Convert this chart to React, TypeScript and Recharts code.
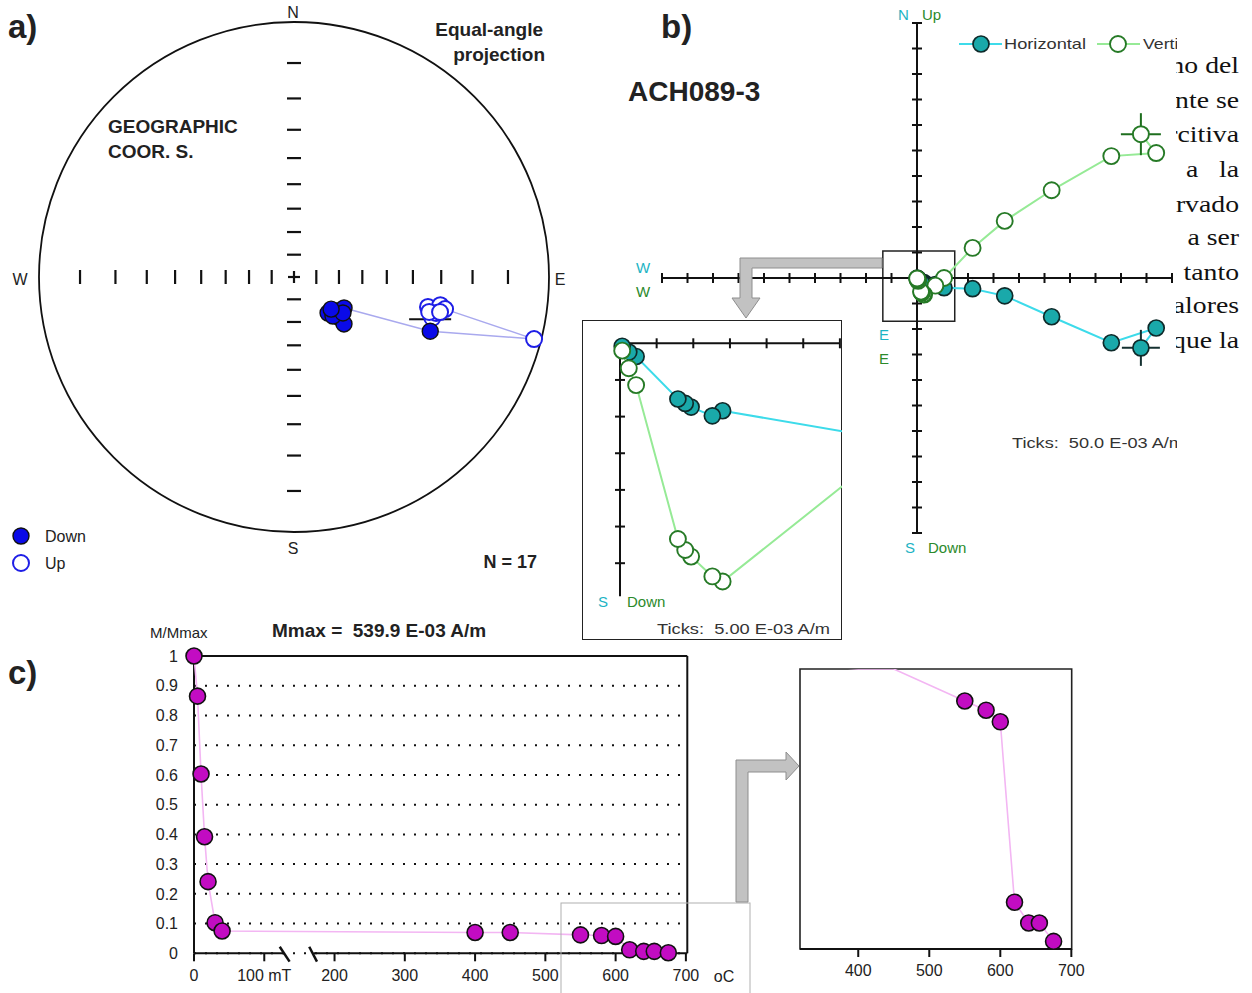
import React from "react";
import {
  ScatterChart,
  Scatter,
  XAxis,
  YAxis,
  ReferenceLine,
  ReferenceDot,
  ReferenceArea,
  CartesianGrid,
} from "recharts";

const SANS = "'Liberation Sans', Arial, Helvetica, sans-serif";
const SERIF = "'Liberation Serif', 'Times New Roman', serif";

// ---- a) stereonet: declination / inclination of each step
const stereoDec = [136.6, 128.3, 121.8, 131.7, 133.2, 135, 126.3, 130.9, 102.6, 100.9, 102.0, 106.5, 104.2, 104.5, 103.5, 111.7, 104.5];
const stereoInc = [68.0, 65.8, 64.0, 62.8, 59.9, 65.6, 63.2, 68.2, -33.4, -29.4, -27.6, -31.0, -30.2, -32.6, -29.0, 30.2, -1.6];
const stereoLinkIdx = [2, 15, 16, 10];
const meanDec = 107.2;
const meanInc = -31.6;
const netTickInc = [10, 20, 30, 40, 50, 60, 70, 80];

// ---- b) Zijderveld components (E-03 A/m), NRM first
const zijEast = [439, 469, 381, 264, 172, 109, 53, 36, 14.0, 12.6, 9.7, 8.9, 7.9, 2.2, 1.2, 0.3];
const zijNorth = [-137, -98, -127, -76, -35, -21, -19, -13, -9.2, -9.9, -8.7, -8.2, -7.6, -1.8, -1.2, -0.4];
const zijUp = [282, 245, 239, 172, 112, 59, 0, -15, -32.5, -31.8, -29.1, -28.2, -26.7, -5.7, -3.4, -1.0];
const zijTicks = [-500, -450, -400, -350, -300, -250, -200, -150, -100, -50, 50, 100, 150, 200, 250, 300, 350, 400, 450, 500];
const zoomTicksX = [5, 10, 15, 20, 25, 30];
const zoomTicksY = [-5, -10, -15, -20, -25, -30];

// ---- c) demagnetisation
const demagStep = [0, 5, 10, 15, 20, 30, 40, 400, 450, 550, 580, 600, 620, 640, 655, 675];
const demagM = [1, 0.865, 0.603, 0.392, 0.241, 0.103, 0.075, 0.07, 0.07, 0.062, 0.0597, 0.0568, 0.0117, 0.0065, 0.0065, 0.0019];
const stepTicks = [0, 100, 200, 300, 400, 500, 600, 700];
const stepTickLabels = ["0", "100 mT", "200", "300", "400", "500", "600", "700"];
const stepMinor = [25, 50, 75, 180, 220, 240, 260, 280, 320, 340, 360, 380, 420, 440, 460, 480, 520, 540, 560, 580, 620, 640, 660, 680];
const mTicks = [0, 0.1, 0.2, 0.3, 0.4, 0.5, 0.6, 0.7, 0.8, 0.9, 1];
const zoomStepTicks = [400, 500, 600, 700];
const zoomStepMinor = [340, 360, 380, 420, 440, 460, 480, 520, 540, 560, 580, 620, 640, 660, 680];
const ZOOM_M_MAX = 0.07;

const rad = Math.PI / 180;
const eqAngle = (inc: number) => Math.tan(((90 - Math.abs(inc)) / 2) * rad);
const project = (dec: number, inc: number) => {
  const r = eqAngle(inc);
  return { x: r * Math.sin(dec * rad), y: r * Math.cos(dec * rad), down: inc >= 0 };
};
const netPts = stereoDec.map((d, i) => project(d, stereoInc[i]));
const netDown = netPts.filter((p) => p.down);
const netUp = netPts.filter((p) => !p.down);
const netLink = stereoLinkIdx.map((i) => netPts[i]);
const netMean = [project(meanDec, meanInc)];
const netR = netTickInc.map(eqAngle);
const netTicksH = [...netR.map((r) => ({ x: r, y: 0 })), ...netR.map((r) => ({ x: -r, y: 0 }))];
const netTicksV = [...netR.map((r) => ({ x: 0, y: r })), ...netR.map((r) => ({ x: 0, y: -r }))];

const horData = zijEast.map((x, i) => ({ x, y: zijNorth[i], nrm: i === 0 }));
const vertData = zijEast.map((x, i) => ({ x, y: zijUp[i], nrm: i === 0 }));
const demagData = demagStep.map((x, i) => ({ x, y: demagM[i] }));
const demagZoomDots = demagData.filter((d) => d.y < ZOOM_M_MAX);

const noMargin = { top: 0, right: 0, bottom: 0, left: 0 };

const VDash = (len: number, w = 2) => (p: any) => (
  <line x1={p.cx} x2={p.cx} y1={p.cy - len} y2={p.cy + len} stroke="#111" strokeWidth={w} />
);
const HDash = (len: number, w = 2) => (p: any) => (
  <line x1={p.cx - len} x2={p.cx + len} y1={p.cy} y2={p.cy} stroke="#111" strokeWidth={w} />
);
const Plus = (p: any) => (
  <g stroke="#111" strokeWidth={2.2}>
    <line x1={p.cx - 6} x2={p.cx + 6} y1={p.cy} y2={p.cy} />
    <line x1={p.cx} x2={p.cx} y1={p.cy - 6} y2={p.cy + 6} />
  </g>
);
const Empty = () => <g />;

const NET_R = 255;
const NET_SIZE = 570;
const NET_D = NET_SIZE / 2 / NET_R;

function Stereonet() {
  return (
    <div style={{ position: "absolute", left: 294 - NET_SIZE / 2, top: 277 - NET_SIZE / 2 }}>
      <ScatterChart width={NET_SIZE} height={NET_SIZE} margin={noMargin}>
        <XAxis type="number" dataKey="x" domain={[-NET_D, NET_D]} hide />
        <YAxis type="number" dataKey="y" domain={[-NET_D, NET_D]} hide />
        <ReferenceDot x={0} y={0} r={NET_R} fill="none" stroke="#111" strokeWidth={1.8} />
        <Scatter data={netTicksH} shape={VDash(7, 2.2)} isAnimationActive={false} />
        <Scatter data={netTicksV} shape={HDash(7, 2.2)} isAnimationActive={false} />
        <Scatter data={[{ x: 0, y: 0 }]} shape={Plus} isAnimationActive={false} />
        <Scatter data={netLink} shape={Empty} line={{ stroke: "#a9a9ee", strokeWidth: 1.5 }} isAnimationActive={false} />
        <Scatter
          data={netMean}
          isAnimationActive={false}
          shape={(p: any) => (
            <g stroke="#111" strokeWidth={2}>
              <line x1={p.cx - 21} x2={p.cx + 21} y1={p.cy} y2={p.cy} />
              <line x1={p.cx} x2={p.cx} y1={p.cy - 12} y2={p.cy + 12} />
            </g>
          )}
        />
        <Scatter
          data={netUp}
          isAnimationActive={false}
          shape={(p: any) => <circle cx={p.cx} cy={p.cy} r={8} fill="#fff" stroke="#1e1ee6" strokeWidth={2} />}
        />
        <Scatter
          data={netDown}
          isAnimationActive={false}
          shape={(p: any) => <circle cx={p.cx} cy={p.cy} r={8} fill="#0a0ae8" stroke="#111" strokeWidth={1.4} />}
        />
      </ScatterChart>
    </div>
  );
}

const TealDot = (p: any) => (
  <g>
    {p.payload && p.payload.nrm ? (
      <g stroke="#143030" strokeWidth={2}>
        <line x1={p.cx - 19} x2={p.cx + 19} y1={p.cy} y2={p.cy} />
        <line x1={p.cx} x2={p.cx} y1={p.cy - 18} y2={p.cy + 18} />
      </g>
    ) : null}
    <circle cx={p.cx} cy={p.cy} r={8} fill="#1aa9aa" stroke="#0e2a2a" strokeWidth={1.7} />
  </g>
);
const GreenDot = (p: any) => (
  <g>
    {p.payload && p.payload.nrm ? (
      <g stroke="#1e6e1e" strokeWidth={2}>
        <line x1={p.cx - 20} x2={p.cx + 20} y1={p.cy} y2={p.cy} />
        <line x1={p.cx} x2={p.cx} y1={p.cy - 21} y2={p.cy + 21} />
      </g>
    ) : null}
    <circle cx={p.cx} cy={p.cy} r={8} fill="#fff" stroke="#267a26" strokeWidth={1.9} />
  </g>
);

const ZIJ_K = 0.51;
const ZIJ_SIZE = 530;
const ZIJ_D = ZIJ_SIZE / 2 / ZIJ_K;
const ZIJ_CX = 916.5;
const ZIJ_CY = 277.5;

function ZijMain() {
  const hT = zijTicks.map((v) => ({ x: v, y: 0 }));
  const vT = zijTicks.map((v) => ({ x: 0, y: v }));
  return (
    <div style={{ position: "absolute", left: ZIJ_CX - ZIJ_SIZE / 2, top: ZIJ_CY - ZIJ_SIZE / 2 }}>
      <ScatterChart width={ZIJ_SIZE} height={ZIJ_SIZE} margin={noMargin}>
        <XAxis type="number" dataKey="x" domain={[-ZIJ_D, ZIJ_D]} hide />
        <YAxis type="number" dataKey="y" domain={[-ZIJ_D, ZIJ_D]} hide />
        <ReferenceLine segment={[{ x: -500, y: 0 }, { x: 500, y: 0 }]} stroke="#111" strokeWidth={2} />
        <ReferenceLine segment={[{ x: 0, y: -500 }, { x: 0, y: 500 }]} stroke="#111" strokeWidth={2} />
        <Scatter data={hT} shape={VDash(5)} isAnimationActive={false} />
        <Scatter data={vT} shape={HDash(5)} isAnimationActive={false} />
        <ReferenceArea x1={-67} x2={74} y1={-85} y2={53} fill="none" stroke="#222" strokeWidth={1.5} />
        <Scatter data={horData} shape={TealDot} line={{ stroke: "#3ddbea", strokeWidth: 2 }} isAnimationActive={false} />
        <Scatter data={vertData} shape={GreenDot} line={{ stroke: "#96ea96", strokeWidth: 2 }} isAnimationActive={false} />
      </ScatterChart>
    </div>
  );
}

const ZOOM_K = 7.33;
const ZB = { left: 582, top: 320, w: 260, h: 320, ox: 620, oy: 343.3 };

function ZijZoom() {
  const xDom = [(ZB.left - ZB.ox) / ZOOM_K, (ZB.left + ZB.w - ZB.ox) / ZOOM_K];
  const yDom = [(ZB.oy - (ZB.top + ZB.h)) / ZOOM_K, (ZB.oy - ZB.top) / ZOOM_K];
  const hT = zoomTicksX.map((v) => ({ x: v, y: 0 }));
  const vT = zoomTicksY.map((v) => ({ x: 0, y: v }));
  return (
    <>
      <div
        style={{
          position: "absolute",
          left: ZB.left,
          top: ZB.top,
          width: ZB.w,
          height: ZB.h,
          boxSizing: "border-box",
          border: "1.5px solid #222",
          background: "#fff",
        }}
      />
      <div style={{ position: "absolute", left: ZB.left, top: ZB.top }}>
        <ScatterChart width={ZB.w} height={ZB.h} margin={noMargin}>
          <XAxis type="number" dataKey="x" domain={xDom} hide allowDataOverflow />
          <YAxis type="number" dataKey="y" domain={yDom} hide allowDataOverflow />
          <ReferenceLine segment={[{ x: 0, y: 0 }, { x: 30, y: 0 }]} stroke="#111" strokeWidth={2} />
          <ReferenceLine segment={[{ x: 0, y: 0 }, { x: 0, y: -34.5 }]} stroke="#111" strokeWidth={2} />
          <Scatter data={hT} shape={VDash(5)} isAnimationActive={false} />
          <Scatter data={vT} shape={HDash(5)} isAnimationActive={false} />
          <Scatter data={horData} shape={TealDot} line={{ stroke: "#3ddbea", strokeWidth: 2 }} isAnimationActive={false} />
          <Scatter data={vertData} shape={GreenDot} line={{ stroke: "#96ea96", strokeWidth: 2 }} isAnimationActive={false} />
        </ScatterChart>
      </div>
    </>
  );
}

const MagentaDot = (p: any) => (
  <circle cx={p.cx} cy={p.cy} r={8} fill="#c20cc2" stroke="#111" strokeWidth={1.6} />
);

const DM = { plotLeft: 194.4, plotTop: 656, plotW: 493.3, plotH: 297.3, yAxisW: 50, top: 10, right: 16, xAxisH: 34 };

function DemagMain() {
  const width = DM.yAxisW + DM.plotW + DM.right;
  const height = DM.top + DM.plotH + DM.xAxisH;
  return (
    <div style={{ position: "absolute", left: DM.plotLeft - DM.yAxisW, top: DM.plotTop - DM.top }}>
      <ScatterChart width={width} height={height} margin={{ top: DM.top, right: DM.right, bottom: 0, left: 0 }}>
        <CartesianGrid vertical={false} stroke="#111" strokeWidth={2} strokeDasharray="2 9" />
        <XAxis
          xAxisId="minor"
          type="number"
          dataKey="x"
          domain={[0, 702]}
          allowDataOverflow
          ticks={stepMinor}
          mirror
          height={0}
          tick={false}
          tickSize={4}
          axisLine={false}
          tickLine={{ stroke: "#111", strokeWidth: 1.5 }}
        />
        <XAxis
          type="number"
          dataKey="x"
          domain={[0, 702]}
          ticks={stepTicks}
          interval={0}
          height={DM.xAxisH}
          tickSize={8}
          tickMargin={8}
          axisLine={false}
          tickLine={{ stroke: "#111", strokeWidth: 2 }}
          tickFormatter={(v: number) => stepTickLabels[stepTicks.indexOf(v)]}
          tick={{ fontSize: 16, fill: "#222", fontFamily: SANS }}
        />
        <YAxis
          type="number"
          dataKey="y"
          domain={[0, 1]}
          ticks={mTicks}
          interval={0}
          width={DM.yAxisW}
          tickLine={false}
          tickMargin={10}
          axisLine={{ stroke: "#111", strokeWidth: 2 }}
          tickFormatter={(v: number) => String(v)}
          tick={{ fontSize: 16, fill: "#222", fontFamily: SANS }}
        />
        <ReferenceLine y={1} stroke="#111" strokeWidth={2} />
        <ReferenceLine x={702} stroke="#111" strokeWidth={2} />
        <ReferenceLine segment={[{ x: 0, y: 0 }, { x: 128, y: 0 }]} stroke="#111" strokeWidth={2} ifOverflow="visible" />
        <ReferenceLine segment={[{ x: 170, y: 0 }, { x: 702, y: 0 }]} stroke="#111" strokeWidth={2} ifOverflow="visible" />
        <ReferenceLine segment={[{ x: 122, y: 0.022 }, { x: 136, y: -0.028 }]} stroke="#111" strokeWidth={2.5} ifOverflow="visible" />
        <ReferenceLine segment={[{ x: 164, y: 0.022 }, { x: 175, y: -0.028 }]} stroke="#111" strokeWidth={2.5} ifOverflow="visible" />
        <Scatter data={demagData} shape={MagentaDot} line={{ stroke: "#f3b6f3", strokeWidth: 1.6 }} isAnimationActive={false} />
      </ScatterChart>
    </div>
  );
}

const DZ = { plotLeft: 800, plotTop: 669.3, plotW: 271.7, plotH: 280, pad: 4, right: 24, xAxisH: 34 };

function DemagZoom() {
  return (
    <div style={{ position: "absolute", left: DZ.plotLeft - DZ.pad, top: DZ.plotTop - DZ.pad }}>
      <ScatterChart
        width={DZ.plotW + DZ.pad + DZ.right}
        height={DZ.plotH + DZ.pad + DZ.xAxisH}
        margin={{ top: DZ.pad, right: DZ.right, bottom: 0, left: DZ.pad }}
      >
        <XAxis
          xAxisId="minor"
          type="number"
          dataKey="x"
          domain={[318, 700.5]}
          allowDataOverflow
          ticks={zoomStepMinor}
          mirror
          height={0}
          tick={false}
          tickSize={4}
          axisLine={false}
          tickLine={{ stroke: "#111", strokeWidth: 1.5 }}
        />
        <XAxis
          type="number"
          dataKey="x"
          domain={[318, 700.5]}
          allowDataOverflow
          ticks={zoomStepTicks}
          interval={0}
          height={DZ.xAxisH}
          tickSize={8}
          tickMargin={8}
          axisLine={{ stroke: "#111", strokeWidth: 2 }}
          tickLine={{ stroke: "#111", strokeWidth: 2 }}
          tick={{ fontSize: 16, fill: "#222", fontFamily: SANS }}
        />
        <YAxis type="number" dataKey="y" domain={[0, ZOOM_M_MAX]} hide allowDataOverflow />
        <ReferenceArea x1={318} x2={700.5} y1={0} y2={ZOOM_M_MAX} fill="none" stroke="#222" strokeWidth={1.6} />
        <Scatter data={demagData} shape={Empty} line={{ stroke: "#f3b6f3", strokeWidth: 1.6 }} isAnimationActive={false} />
        <Scatter data={demagZoomDots} shape={MagentaDot} isAnimationActive={false} />
      </ScatterChart>
    </div>
  );
}

const docLines = [
  { t: "mismo del", y: 73 },
  { t: "finalmente se", y: 108 },
  { t: "coercitiva", y: 142 },
  { t: "igual\u00a0\u00a0\u00a0 a\u00a0\u00a0 la", y: 177 },
  { t: "observado", y: 212 },
  { t: "vuelve\u00a0\u00a0 a ser", y: 245 },
  { t: "lo tanto", y: 280 },
  { t: "valores", y: 313 },
  { t: "porque la", y: 348 },
];

function Overlay() {
  const teal = "#1cb4c4";
  const green = "#2b8a2b";
  return (
    <svg
      width={1252}
      height={993}
      style={{ position: "absolute", left: 0, top: 0, pointerEvents: "none" }}
      fontFamily={SANS}
    >
      {/* panel a */}
      <text x={8} y={38} fontSize={33} fontWeight="bold" fill="#222">a)</text>
      <text x={293} y={18} fontSize={16} textAnchor="middle" fill="#222">N</text>
      <text x={293} y={554} fontSize={16} textAnchor="middle" fill="#222">S</text>
      <text x={20} y={285} fontSize={16} textAnchor="middle" fill="#222">W</text>
      <text x={560} y={285} fontSize={16} textAnchor="middle" fill="#222">E</text>
      <text x={543} y={36} fontSize={19} fontWeight="bold" textAnchor="end" fill="#222">Equal-angle</text>
      <text x={545} y={61} fontSize={19} fontWeight="bold" textAnchor="end" fill="#222">projection</text>
      <text x={108} y={133} fontSize={19} fontWeight="bold" fill="#222">GEOGRAPHIC</text>
      <text x={108} y={158} fontSize={19} fontWeight="bold" fill="#222">COOR. S.</text>
      <circle cx={21} cy={536} r={8} fill="#0a0ae8" stroke="#111" strokeWidth={1.4} />
      <text x={45} y={542} fontSize={16} fill="#222">Down</text>
      <circle cx={21} cy={563} r={8} fill="#fff" stroke="#1e1ee6" strokeWidth={2} />
      <text x={45} y={569} fontSize={16} fill="#222">Up</text>
      <text x={537} y={568} fontSize={18} fontWeight="bold" textAnchor="end" fill="#222">N = 17</text>

      {/* panel b */}
      <text x={661} y={38} fontSize={33} fontWeight="bold" fill="#222">b)</text>
      <text x={628} y={101} fontSize={28} fontWeight="bold" fill="#222">ACH089-3</text>
      <text x={898} y={20} fontSize={15} fill={teal}>N</text>
      <text x={922} y={20} fontSize={15} fill={green}>Up</text>
      <text x={905} y={553} fontSize={15} fill={teal}>S</text>
      <text x={928} y={553} fontSize={15} fill={green}>Down</text>
      <text x={643} y={273} fontSize={15} textAnchor="middle" fill={teal}>W</text>
      <text x={643} y={297} fontSize={15} textAnchor="middle" fill={green}>W</text>
      <text x={884} y={340} fontSize={15} textAnchor="middle" fill={teal}>E</text>
      <text x={884} y={364} fontSize={15} textAnchor="middle" fill={green}>E</text>
      <line x1={959} x2={1002} y1={44} y2={44} stroke="#3ddbea" strokeWidth={2} />
      <circle cx={981} cy={44} r={8} fill="#1aa9aa" stroke="#0e2a2a" strokeWidth={1.7} />
      <text x={1004} y={49} fontSize={15} fill="#333" textLength={82} lengthAdjust="spacingAndGlyphs">Horizontal</text>
      <line x1={1097} x2={1140} y1={44} y2={44} stroke="#96ea96" strokeWidth={2} />
      <circle cx={1118} cy={44} r={8} fill="#fff" stroke="#267a26" strokeWidth={1.9} />
      <text x={1143} y={49} fontSize={15} fill="#333" textLength={58} lengthAdjust="spacingAndGlyphs">Vertical</text>
      <text x={1012} y={448} fontSize={15} fill="#333" textLength={172} lengthAdjust="spacingAndGlyphs">{"Ticks:\u00a0 50.0 E-03 A/m"}</text>
      <text x={598} y={607} fontSize={15} fill={teal}>S</text>
      <text x={627} y={607} fontSize={15} fill={green}>Down</text>
      <text x={657} y={634} fontSize={15} fill="#333" textLength={173} lengthAdjust="spacingAndGlyphs">{"Ticks:\u00a0 5.00 E-03 A/m"}</text>
      <polygon
        points="882,258 740,258 740,298 732,298 746,318 760,298 752,298 752,268 882,268"
        fill="#c2c2c2"
        stroke="#8e8e8e"
        strokeWidth={1}
      />

      {/* document text overlapping the figure */}
      <defs>
        <clipPath id="docClip">
          <rect x={1176} y={0} width={80} height={993} />
        </clipPath>
      </defs>
      <rect x={1177} y={28} width={75} height={430} fill="#fff" />
      <g clipPath="url(#docClip)" fontFamily={SERIF} fill="#111">
        {docLines.map((l) => (
          <g key={l.y} transform={`translate(1239 ${l.y}) scale(1.18 1)`}>
            <text x={0} y={0} fontSize={23.5} textAnchor="end">
              {l.t}
            </text>
          </g>
        ))}
      </g>

      {/* panel c */}
      <text x={8} y={684} fontSize={33} fontWeight="bold" fill="#222">c)</text>
      <text x={150} y={638} fontSize={15} fill="#222">M/Mmax</text>
      <text x={272} y={637} fontSize={19} fontWeight="bold" fill="#222">{"Mmax =\u00a0 539.9 E-03 A/m"}</text>
      <text x={724} y={982} fontSize={16} textAnchor="middle" fill="#222">oC</text>
      <rect x={561} y={903} width={189} height={100} fill="none" stroke="#b0b0b0" strokeWidth={1} />
      <polygon
        points="736,902 736,760 786,760 786,752 799,766 786,780 786,772 748,772 748,902"
        fill="#c2c2c2"
        stroke="#8e8e8e"
        strokeWidth={1}
      />
    </svg>
  );
}

export default function App() {
  return (
    <div
      style={{
        position: "absolute",
        left: 0,
        top: 0,
        width: 1252,
        height: 993,
        background: "#fff",
        overflow: "hidden",
        fontFamily: SANS,
      }}
    >
      <Stereonet />
      <ZijMain />
      <ZijZoom />
      <DemagMain />
      <DemagZoom />
      <Overlay />
    </div>
  );
}
